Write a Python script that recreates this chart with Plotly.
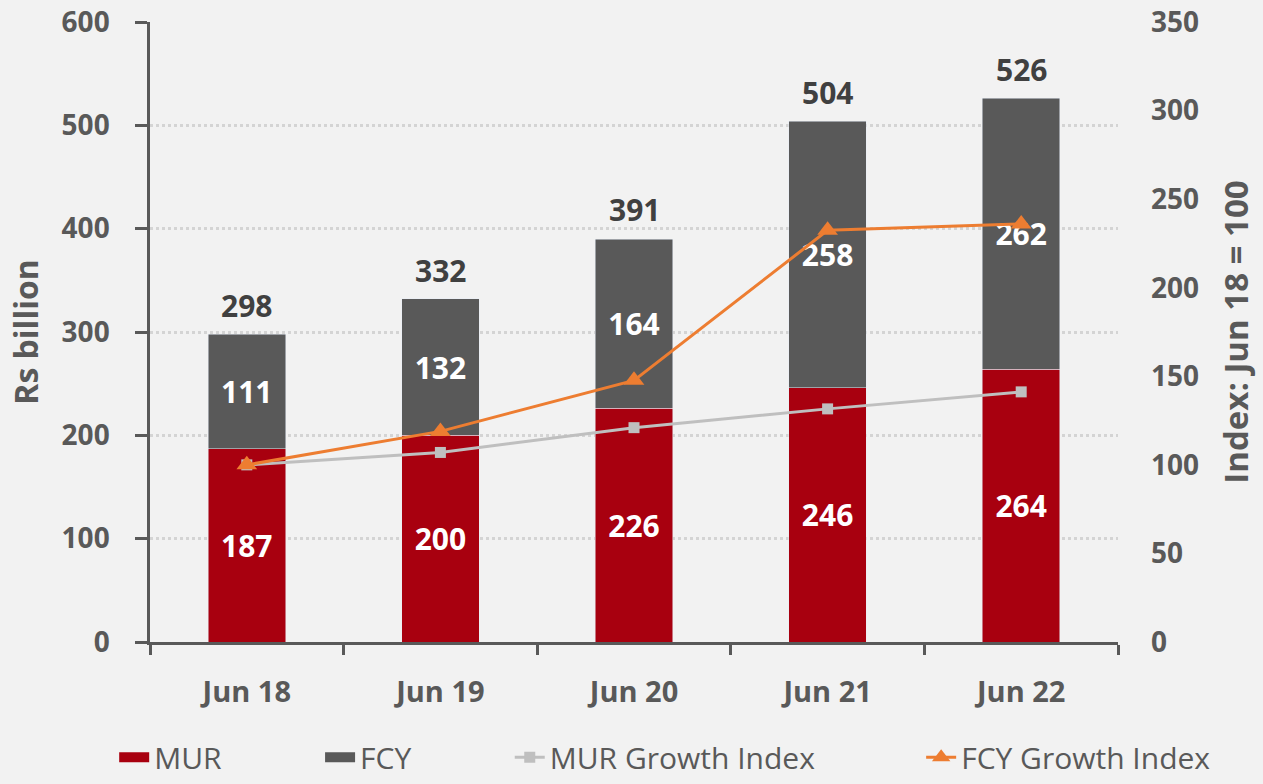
import plotly.graph_objects as go

categories = ["Jun 18", "Jun 19", "Jun 20", "Jun 21", "Jun 22"]
mur = [187, 200, 226, 246, 264]
fcy = [111, 132, 164, 258, 262]
totals = [298, 332, 391, 504, 526]
mur_index = [100, 107, 121, 131.6, 141.2]
fcy_index = [100, 118.9, 147.7, 232.4, 236.0]

RED = "#a8000f"
GRAY = "#595959"
LGRAY = "#bfbfbf"
ORANGE = "#ed7d31"
TXT = "#595959"
FONT = "Open Sans"
NB = "\u00a0"

fig = go.Figure()
fig.add_trace(go.Bar(x=categories, y=mur, name="MUR", marker_color=RED, showlegend=False,
                     text=mur, textposition="inside", insidetextanchor="middle",
                     constraintext="none",
                     textfont=dict(color="white", size=30, family=FONT, weight="bold"),
                     width=0.4))
fig.add_trace(go.Bar(x=categories, y=fcy, name="FCY", marker_color=GRAY, showlegend=False,
                     text=fcy, textposition="inside", insidetextanchor="middle",
                     constraintext="none",
                     textfont=dict(color="white", size=30, family=FONT, weight="bold"),
                     width=0.4))
# legend-only entries for the bars (wide rectangular swatches)
fig.add_trace(go.Scatter(x=[None], y=[None], mode="lines", name="MUR" + NB * 12,
                         line=dict(color=RED, width=20)))
fig.add_trace(go.Scatter(x=[None], y=[None], mode="lines", name="FCY" + NB * 12,
                         line=dict(color=GRAY, width=20)))
fig.add_trace(go.Scatter(x=categories, y=mur_index, name="MUR Growth Index" + NB * 13,
                         yaxis="y2", mode="lines+markers", line=dict(color=LGRAY, width=3),
                         marker=dict(symbol="square", size=11, color=LGRAY)))
fig.add_trace(go.Scatter(x=categories, y=fcy_index, name="FCY Growth Index", yaxis="y2",
                         mode="lines+markers", line=dict(color=ORANGE, width=3),
                         marker=dict(symbol="triangle-up", size=18, color=ORANGE)))

for c, t in zip(categories, totals):
    fig.add_annotation(x=c, y=t, text=str(t), showarrow=False, yanchor="bottom",
                       yshift=6, xref="x", yref="y",
                       font=dict(color="#404040", size=30, family=FONT, weight="bold"))

fig.update_layout(
    width=1263, height=784,
    barmode="stack",
    paper_bgcolor="#f2f2f2", plot_bgcolor="#f2f2f2",
    margin=dict(l=150, r=145, t=22, b=142, autoexpand=False),
    font=dict(family=FONT, color=TXT),
    xaxis=dict(showline=True, linecolor=GRAY, linewidth=2.5, ticks="outside",
               tickson="boundaries", ticklen=10, tickcolor=GRAY, tickwidth=2.5,
               ticklabelstandoff=22, automargin=False,
               tickfont=dict(size=29, family=FONT, weight="bold", color=TXT)),
    yaxis=dict(range=[0, 600], dtick=100, showline=True, linecolor=GRAY, linewidth=2.5,
               ticks="outside", ticklen=12, tickcolor=GRAY, tickwidth=2.5,
               ticklabelstandoff=20, ticklabeloverflow="allow", automargin=False,
               showgrid=True, gridcolor="#d4d4d4", griddash="dot", gridwidth=2.5,
               zeroline=False,
               tickfont=dict(size=28, family=FONT, weight="bold", color=TXT),
               title=dict(text="Rs billion", standoff=14,
                          font=dict(size=32, family=FONT, weight="bold", color=TXT))),
    yaxis2=dict(range=[0, 350], dtick=50, overlaying="y", side="right",
                showgrid=False, zeroline=False, showline=False, automargin=False,
                ticklabelstandoff=32, ticklabeloverflow="allow",
                tickfont=dict(size=28, family=FONT, weight="bold", color=TXT),
                title=dict(text="Index: Jun 18 = 100", standoff=26,
                           font=dict(size=33, family=FONT, weight="bold", color=TXT))),
    legend=dict(orientation="h", x=-0.037, xanchor="left", y=-0.228, yanchor="bottom",
                font=dict(size=30, family=FONT, color=TXT), bgcolor="rgba(0,0,0,0)",
                traceorder="normal"),
    bargap=0.6,
)

fig.write_html("out.html", config={"displayModeBar": False},
               post_script="document.body.style.margin='0';document.body.style.overflow='hidden';")
